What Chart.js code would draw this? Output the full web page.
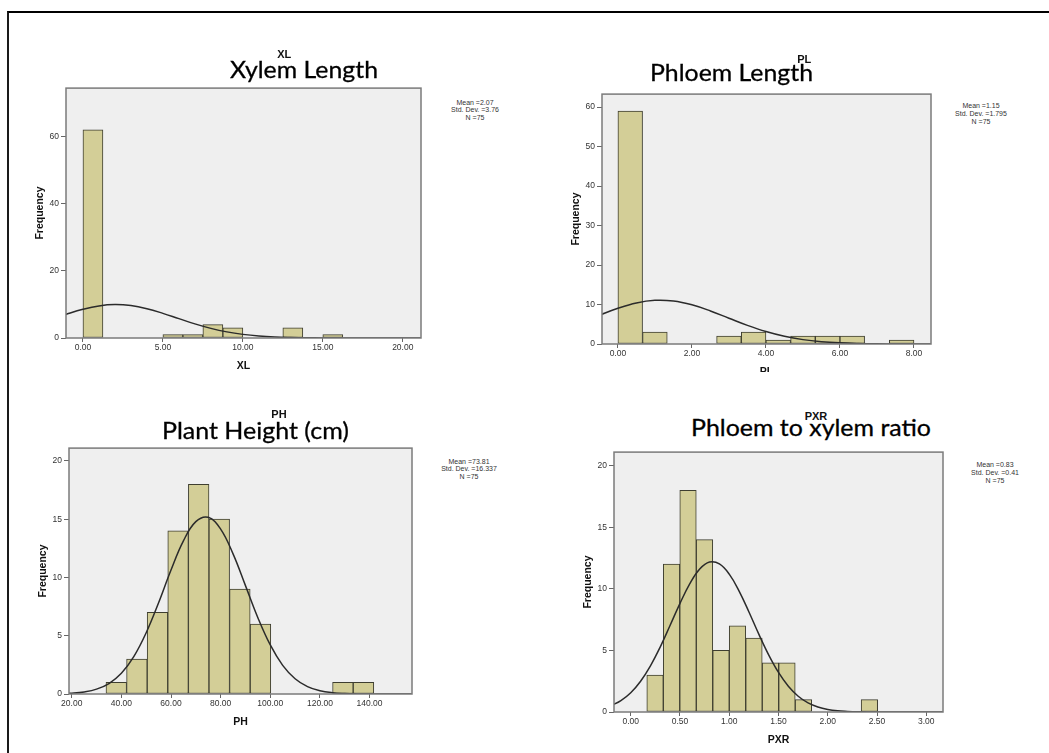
<!DOCTYPE html>
<html><head><meta charset="utf-8">
<script src="https://cdn.jsdelivr.net/npm/chart.js@4.4.1/dist/chart.umd.min.js"></script>
<style>
html,body{margin:0;padding:0;background:#fff;}
body{width:1049px;height:753px;position:relative;overflow:hidden;font-family:"Liberation Sans",Arial,sans-serif;}
.frame{position:absolute;left:7px;top:11px;width:1100px;height:800px;border-top:2px solid #000;border-left:2px solid #1a1a1a;}
.panel{position:absolute;overflow:hidden;}
.big{position:absolute;font-family:Lato,"Open Sans",sans-serif;font-size:24px;line-height:24px;white-space:nowrap;color:#000;transform-origin:0 0;-webkit-text-stroke:0.3px #000;}
.sup{position:absolute;font-weight:bold;font-size:11px;line-height:11px;width:60px;text-align:center;color:#111;white-space:nowrap;}
.stats{position:absolute;font-size:7px;width:90px;text-align:center;color:#333;white-space:nowrap;}
</style></head><body>
<div class="frame"></div>

<div class="panel" id="p1"></div>
<div class="panel" id="p2"></div>
<div class="panel" id="p3"></div>
<div class="panel" id="p4"></div>

<div class="big" data-w="148" style="left:230px;top:57px;">Xylem Length</div>
<div class="big" data-w="163" style="left:650px;top:60.4px;">Phloem Length</div>
<div class="big" data-w="187" style="left:161.7px;top:418px;">Plant Height (cm)</div>
<div class="big" data-w="240" style="left:691px;top:415.4px;">Phloem to xylem ratio</div>

<div class="sup" style="left:254.2px;top:48.7px;">XL</div>
<div class="sup" style="left:774.2px;top:54px;">PL</div>
<div class="sup" style="left:249px;top:408.7px;">PH</div>
<div class="sup" style="left:786px;top:410.7px;">PXR</div>

<div class="stats" style="left:430px;top:98.7px;line-height:7.7px;">Mean =2.07<br>Std. Dev. =3.76<br>N =75</div>
<div class="stats" style="left:936px;top:101.7px;line-height:8.3px;">Mean =1.15<br>Std. Dev. =1.795<br>N =75</div>
<div class="stats" style="left:424px;top:457.7px;line-height:7.6px;">Mean =73.81<br>Std. Dev. =16.337<br>N =75</div>
<div class="stats" style="left:950px;top:461px;line-height:8px;">Mean =0.83<br>Std. Dev. =0.41<br>N =75</div>

<script>
// ---------- Xylem Length (XL) ----------
const xlBinCenters = [0.625,1.875,3.125,4.375,5.625,6.875,8.125,9.375,10.625,11.875,13.125,14.375,15.625];
const xlCounts     = [62,0,0,0,1,1,4,3,0,0,3,0,1];
const xlCurveX     = [-2,-1,0,1,2,3,4,5,6,7,8,9,10,11,12,13,14,15,16,17,18,19,20,21,22];
const xlCurveY     = [5.54,7.13,8.55,9.56,9.95,9.65,8.72,7.34,5.76,4.21,2.87,1.82,1.08,0.59,0.30,0.15,0.06,0.03,0.01,0,0,0,0,0,0];
const xlXTicks     = [0,5,10,15,20];
const xlYTicks     = [0,20,40,60];

// ---------- Phloem Length (PL) ----------
const plBinCenters = [0.333,1.0,1.667,2.333,3.0,3.667,4.333,5.0,5.667,6.333,7.0,7.667];
const plCounts     = [59,3,0,0,2,3,1,2,2,2,0,1];
const plCurveX     = [-1,-0.5,0,0.5,1,1.5,2,2.5,3,3.5,4,4.5,5,5.5,6,6.5,7,7.5,8,8.5,9];
const plCurveY     = [5.42,7.27,9.04,10.40,11.06,10.89,9.92,8.37,6.53,4.71,3.15,1.95,1.11,0.59,0.29,0.13,0.05,0.02,0.01,0,0];
const plXTicks     = [0,2,4,6,8];
const plYTicks     = [0,10,20,30,40,50,60];

// ---------- Plant Height (PH) ----------
const phBinCenters = [37.95,46.25,54.55,62.85,71.15,79.45,87.75,96.05,104.35,112.65,120.95,129.25,137.55];
const phCounts     = [1,3,7,14,18,15,9,6,0,0,0,1,1];
const phCurveX     = [15,20,25,30,35,40,45,50,55,60,65,70,75,80,85,90,95,100,105,110,115,120,125,130,135,140,145,150,155,160];
const phCurveY     = [0.02,0.07,0.18,0.42,0.90,1.78,3.21,5.26,7.83,10.64,13.14,14.79,15.16,14.15,12.02,9.30,6.55,4.21,2.46,1.31,0.63,0.28,0.11,0.04,0.01,0,0,0,0,0];
const phXTicks     = [20,40,60,80,100,120,140];
const phYTicks     = [0,5,10,15,20];

// ---------- Phloem to xylem ratio (PXR) ----------
const pxBinCenters = [0.2467,0.4141,0.5815,0.7489,0.9163,1.0837,1.2511,1.4185,1.5859,1.7533,1.9207,2.0881,2.2555,2.4229];
const pxCounts     = [3,12,18,14,5,7,6,4,4,1,0,0,0,1];
const pxCurveX     = [-0.2,-0.1,0,0.1,0.2,0.3,0.4,0.5,0.6,0.7,0.8,0.9,1.0,1.1,1.2,1.3,1.4,1.5,1.6,1.7,1.8,1.9,2.0,2.1,2.2,2.3,2.4,2.5,2.6,2.7,2.8,2.9,3.0,3.1,3.2];
const pxCurveY     = [0.52,0.93,1.57,2.50,3.75,5.29,7.04,8.82,10.42,11.60,12.17,12.02,11.19,9.82,8.12,6.32,4.64,3.21,2.09,1.28,0.74,0.41,0.21,0.10,0.05,0.02,0.01,0,0,0,0,0,0,0,0];
const pxXTicks     = [0,0.5,1,1.5,2,2.5,3];
const pxYTicks     = [0,5,10,15,20];

const boxPlugin = {
  id: 'plotBox',
  beforeDatasetsDraw(chart) {
    const a = chart.chartArea, ctx = chart.ctx;
    ctx.save(); ctx.fillStyle = '#efefef';
    ctx.fillRect(a.left, a.top, a.right - a.left, a.bottom - a.top); ctx.restore();
  },
  afterDatasetsDraw(chart) {
    const a = chart.chartArea, ctx = chart.ctx;
    ctx.save(); ctx.strokeStyle = '#7b7b7b'; ctx.lineWidth = 1.5;
    ctx.strokeRect(a.left, a.top, a.right - a.left, a.bottom - a.top); ctx.restore();
  }
};

const tickFont = {family: '"Liberation Sans", Arial, sans-serif', size: 8.5};
const titleFont = {family: '"Liberation Sans", Arial, sans-serif', size: 10.5, weight: 'bold'};

function makeHist(o) {
  const W = o.R - o.L + 52, H = o.B - o.T + 44;
  const wrap = document.getElementById(o.id);
  wrap.style.left = (o.L - 50) + 'px';
  wrap.style.top = (o.T - 2) + 'px';
  wrap.style.width = W + 'px';
  wrap.style.height = (o.clipH || H) + 'px';
  const cv = document.createElement('canvas');
  cv.width = W; cv.height = H; cv.style.width = W + 'px'; cv.style.height = H + 'px';
  wrap.appendChild(cv);
  new Chart(cv, {
    type: 'bar',
    data: {
      datasets: [
        { type: 'line', data: o.cx.map((x, i) => ({x: x, y: o.cy[i]})),
          borderColor: '#2b2b2b', borderWidth: 1.5, pointRadius: 0, tension: 0.4, fill: false, order: 0 },
        { type: 'bar', data: o.bx.map((x, i) => ({x: x, y: o.counts[i] ? o.counts[i] : null})),
          backgroundColor: '#d3ce97', borderColor: '#3e3e30', borderWidth: 1, borderSkipped: false,
          categoryPercentage: 1, barPercentage: 1, order: 1 }
      ]
    },
    options: {
      responsive: false, animation: false, devicePixelRatio: 1,
      layout: {padding: {top: 2, right: 2, left: 0, bottom: 0}},
      plugins: {legend: {display: false}, tooltip: {enabled: false}},
      scales: {
        x: {
          type: 'linear', min: o.xmin, max: o.xmax, offset: false,
          afterBuildTicks: s => { s.ticks = o.xt.map(v => ({value: v})); },
          afterFit: s => { s.height = 42; },
          grid: {drawOnChartArea: false, offset: false, drawTicks: true, tickLength: 4, color: '#666'},
          border: {display: false},
          ticks: {autoSkip: false, maxRotation: 0, padding: 1, color: '#333', font: tickFont,
                  callback: v => Number(v).toFixed(2)},
          title: {display: true, text: o.xTitle, color: '#111', font: titleFont, padding: {top: 0, bottom: 8}}
        },
        y: {
          type: 'linear', min: 0, max: o.ymax,
          afterBuildTicks: s => { s.ticks = o.yt.map(v => ({value: v})); },
          afterFit: s => { s.width = 50; },
          grid: {drawOnChartArea: false, drawTicks: true, tickLength: 5, color: '#666'},
          border: {display: false},
          ticks: {autoSkip: false, padding: 2, color: '#333', font: tickFont, callback: v => String(v)},
          title: {display: true, text: 'Frequency', color: '#111', font: titleFont, padding: {top: 18, bottom: 0}}
        }
      }
    },
    plugins: [boxPlugin]
  });
}

makeHist({id: 'p1', L: 66, R: 421, T: 83, B: 338, xmin: -1.06, xmax: 21.14, ymax: 74.4,
  bx: xlBinCenters, counts: xlCounts, cx: xlCurveX, cy: xlCurveY, xt: xlXTicks, yt: xlYTicks, xTitle: 'XL'});
makeHist({id: 'p2', L: 602, R: 931, T: 89, B: 344, xmin: -0.43, xmax: 8.46, ymax: 63.3, clipH: 285,
  bx: plBinCenters, counts: plCounts, cx: plCurveX, cy: plCurveY, xt: plXTicks, yt: plYTicks, xTitle: 'PL'});
makeHist({id: 'p3', L: 69, R: 412, T: 443, B: 694, xmin: 18.9, xmax: 157.1, ymax: 21.1,
  bx: phBinCenters, counts: phCounts, cx: phCurveX, cy: phCurveY, xt: phXTicks, yt: phYTicks, xTitle: 'PH'});
makeHist({id: 'p4', L: 614, R: 943, T: 447, B: 712, xmin: -0.17, xmax: 3.17, ymax: 21.1,
  bx: pxBinCenters, counts: pxCounts, cx: pxCurveX, cy: pxCurveY, xt: pxXTicks, yt: pxYTicks, xTitle: 'PXR'});

function fitTitles() {
  document.querySelectorAll('.big').forEach(el => {
    el.style.transform = 'none';
    const w = el.getBoundingClientRect().width;
    const target = parseFloat(el.dataset.w);
    if (w > 0) el.style.transform = 'scaleX(' + (target / w) + ')';
  });
}
fitTitles();
if (document.fonts && document.fonts.ready) document.fonts.ready.then(fitTitles);
</script>
</body></html>
